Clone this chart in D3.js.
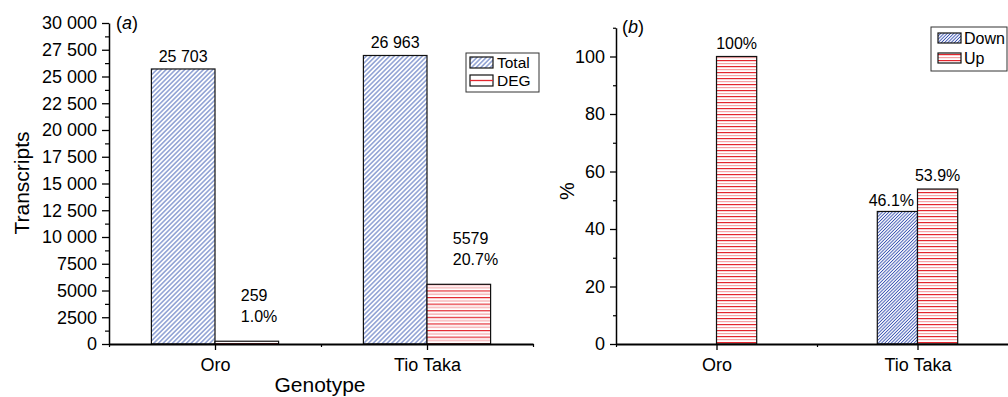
<!DOCTYPE html>
<html>
<head>
<meta charset="utf-8">
<script src="https://cdn.jsdelivr.net/npm/d3@7"></script>
<style>
  html, body { margin: 0; padding: 0; background: #fff; }
  svg { display: block; font-family: "Liberation Sans", Arial, Helvetica, sans-serif; }
</style>
</head>
<body>
<svg id="chart" width="1008" height="397"></svg>
<script>
// ---- data ----
const genotypes = ["Oro", "Tio Taka"];
const totalTranscripts = [25703, 26963];
const degTranscripts = [259, 5579];
const downPercent = [0, 46.1];
const upPercent = [100, 53.9];
const transcriptTicks = d3.range(0, 30001, 2500);
const transcriptMinorTicks = d3.range(1250, 30000, 2500);
const percentTicks = [0, 20, 40, 60, 80, 100];
const percentMinorTicks = [10, 30, 50, 70, 90, 110];

const FONT = '"Liberation Sans", Arial, Helvetica, sans-serif';
const svg = d3.select("#chart");

// ---- fill patterns ----
const defs = svg.append("defs");
function hatch(id, gap, color, width) {
  const p = defs.append("pattern").attr("id", id)
    .attr("patternUnits", "userSpaceOnUse")
    .attr("width", gap).attr("height", gap)
    .attr("patternTransform", "rotate(45)");
  p.append("rect").attr("width", gap).attr("height", gap).attr("fill", "#fff");
  p.append("line").attr("x1", gap / 2).attr("x2", gap / 2).attr("y1", 0).attr("y2", gap)
    .attr("stroke", color).attr("stroke-width", width);
}
function stripes(id, period) {
  const p = defs.append("pattern").attr("id", id)
    .attr("patternUnits", "userSpaceOnUse")
    .attr("width", 10).attr("height", period);
  p.append("rect").attr("width", 10).attr("height", period).attr("fill", "#fff");
  p.append("rect").attr("y", 0).attr("width", 10).attr("height", 1.2).attr("fill", "#e3262e");
  p.append("rect").attr("y", period / 2).attr("width", 10).attr("height", 1.2).attr("fill", "#f5a3a6");
}
hatch("hatchTotal", 3.3, "#3f5db5", 0.9);
hatch("hatchDown", 2.3, "#3550b0", 0.9);
stripes("stripeDeg", 6.6);
stripes("stripeUp", 6);

const thousands = v => v >= 10000 ? d3.format(",")(v).replace(/,/g, " ") : String(v);
const pct = v => (v % 1 === 0 ? String(v) : v.toFixed(1)) + "%";

function styleAxis(g, domainWidth) {
  g.attr("font-family", FONT).attr("font-size", 18);
  g.select(".domain").attr("stroke", "#000").attr("stroke-width", domainWidth);
  g.selectAll(".tick line").attr("stroke", "#000").attr("stroke-width", 1.3);
  g.selectAll(".tick text").attr("fill", "#000");
}
function minorAxis(g) {
  g.select(".domain").remove();
  g.selectAll(".tick line").attr("stroke", "#000").attr("stroke-width", 1.2);
}

// ================= panel (a) =================
const xA = d3.scaleLinear().domain([0.5, 2.5]).range([109, 533]);
const yA = d3.scaleLinear().domain([0, 30000]).range([344, 23]);
const wA = 0.3;
const gA = svg.append("g");

// bars: total
gA.selectAll("rect.total").data(totalTranscripts).join("rect")
  .attr("class", "total")
  .attr("x", (d, i) => xA(i + 1 - wA))
  .attr("width", xA(1) - xA(1 - wA))
  .attr("y", d => yA(d))
  .attr("height", d => yA(0) - yA(d))
  .attr("fill", "url(#hatchTotal)").attr("stroke", "#111").attr("stroke-width", 1.2);

// bars: DEG
gA.selectAll("rect.deg").data(degTranscripts).join("rect")
  .attr("class", "deg")
  .attr("x", (d, i) => xA(i + 1))
  .attr("width", xA(1 + wA) - xA(1))
  .attr("y", d => yA(d))
  .attr("height", d => yA(0) - yA(d))
  .attr("fill", "url(#stripeDeg)").attr("stroke", "#111").attr("stroke-width", 1.2);

// axes
gA.append("g").attr("transform", "translate(109,0)")
  .call(d3.axisLeft(yA).tickValues(transcriptTicks).tickFormat(thousands)
    .tickSize(7).tickSizeOuter(0).tickPadding(5))
  .call(g => styleAxis(g, 1.5));
gA.append("g").attr("transform", "translate(109,0)")
  .call(d3.axisLeft(yA).tickValues(transcriptMinorTicks).tickFormat("").tickSize(4))
  .call(minorAxis);
gA.append("g").attr("transform", "translate(0,344)")
  .call(d3.axisBottom(xA).tickValues([1, 2]).tickFormat(d => genotypes[d - 1])
    .tickSize(6).tickSizeOuter(0).tickPadding(8))
  .call(g => styleAxis(g, 2.2));
gA.append("g").attr("transform", "translate(0,344)")
  .call(d3.axisBottom(xA).tickValues([0.5, 1.5, 2.5]).tickFormat("").tickSize(3))
  .call(minorAxis);

// value labels
gA.selectAll("text.totalLbl").data(totalTranscripts).join("text")
  .attr("x", (d, i) => xA(i + 1 - wA / 2))
  .attr("y", d => yA(d) - 7)
  .attr("text-anchor", "middle").attr("font-size", 16)
  .text(d => thousands(d));
degTranscripts.forEach((d, i) => {
  const x = xA(i + 1 + wA / 2) - 6;
  gA.append("text").attr("x", x).attr("y", yA(d) - 40).attr("font-size", 16).text(String(d));
  gA.append("text").attr("x", x).attr("y", yA(d) - 19).attr("font-size", 16)
    .text(d3.format(".1%")(d / totalTranscripts[i]));
});

// titles
const panelA = gA.append("text").attr("x", 116).attr("y", 29).attr("font-size", 18);
panelA.append("tspan").text("(");
panelA.append("tspan").attr("font-style", "italic").text("a");
panelA.append("tspan").text(")");
gA.append("text").attr("transform", "translate(29,183) rotate(-90)")
  .attr("text-anchor", "middle").attr("font-size", 21).text("Transcripts");
gA.append("text").attr("x", 320).attr("y", 392)
  .attr("text-anchor", "middle").attr("font-size", 21).text("Genotype");

// legend
const legA = gA.append("g");
legA.append("rect").attr("x", 466).attr("y", 53).attr("width", 73).attr("height", 39)
  .attr("fill", "#fff").attr("stroke", "#333").attr("stroke-width", 1);
legA.append("rect").attr("x", 470).attr("y", 57).attr("width", 23).attr("height", 11)
  .attr("fill", "url(#hatchTotal)").attr("stroke", "#111").attr("stroke-width", 1.2);
legA.append("rect").attr("x", 470).attr("y", 75).attr("width", 23).attr("height", 11)
  .attr("fill", "#fff").attr("stroke", "#111").attr("stroke-width", 1.2);
legA.append("line").attr("x1", 470).attr("x2", 493).attr("y1", 80.5).attr("y2", 80.5)
  .attr("stroke", "#e3262e").attr("stroke-width", 1.3);
legA.append("text").attr("x", 497).attr("y", 68).attr("font-size", 15.5).text("Total");
legA.append("text").attr("x", 497).attr("y", 86).attr("font-size", 15.5).text("DEG");

// ================= panel (b) =================
const xB = d3.scaleLinear().domain([0.5, 2.5]).range([616, 1018]);
const yB = d3.scaleLinear().domain([0, 110]).range([344, 27.75]);
const wB = 0.2;
const gB = svg.append("g");

gB.selectAll("rect.down").data(downPercent).join("rect")
  .attr("class", "down")
  .filter(d => d > 0)
  .attr("x", (d, i) => xB(downPercent.indexOf(d) + 1 - wB))
  .attr("width", xB(1) - xB(1 - wB))
  .attr("y", d => yB(d))
  .attr("height", d => yB(0) - yB(d))
  .attr("fill", "url(#hatchDown)").attr("stroke", "#111").attr("stroke-width", 1.2);

gB.selectAll("rect.up").data(upPercent).join("rect")
  .attr("class", "up")
  .attr("x", (d, i) => xB(i + 1))
  .attr("width", xB(1 + wB) - xB(1))
  .attr("y", d => yB(d))
  .attr("height", d => yB(0) - yB(d))
  .attr("fill", "url(#stripeUp)").attr("stroke", "#111").attr("stroke-width", 1.2);

gB.append("g").attr("transform", "translate(616,0)")
  .call(d3.axisLeft(yB).tickValues(percentTicks).tickSize(6).tickSizeOuter(0).tickPadding(5))
  .call(g => styleAxis(g, 1.5));
gB.append("g").attr("transform", "translate(616,0)")
  .call(d3.axisLeft(yB).tickValues(percentMinorTicks).tickFormat("").tickSize(3))
  .call(minorAxis);
gB.append("g").attr("transform", "translate(0,344)")
  .call(d3.axisBottom(xB).tickValues([1, 2]).tickFormat(d => genotypes[d - 1])
    .tickSize(6).tickSizeOuter(0).tickPadding(8))
  .call(g => styleAxis(g, 2.2));
gB.append("g").attr("transform", "translate(0,344)")
  .call(d3.axisBottom(xB).tickValues([0.5, 1.5, 2.5]).tickFormat("").tickSize(3))
  .call(minorAxis);

// value labels
downPercent.forEach((d, i) => {
  if (d <= 0) return;
  gB.append("text").attr("x", xB(i + 1 - wB / 2) - 6).attr("y", yB(d) - 5)
    .attr("text-anchor", "middle").attr("font-size", 16).text(pct(d));
});
upPercent.forEach((d, i) => {
  gB.append("text").attr("x", xB(i + 1 + wB / 2)).attr("y", yB(d) - 8)
    .attr("text-anchor", "middle").attr("font-size", 16).text(pct(d));
});

const panelB = gB.append("text").attr("x", 622).attr("y", 33).attr("font-size", 18);
panelB.append("tspan").text("(");
panelB.append("tspan").attr("font-style", "italic").text("b");
panelB.append("tspan").text(")");
gB.append("text").attr("transform", "translate(574,191) rotate(-90)")
  .attr("text-anchor", "middle").attr("font-size", 20).text("%");

const legB = gB.append("g");
legB.append("rect").attr("x", 931).attr("y", 27).attr("width", 76).attr("height", 44)
  .attr("fill", "#fff").attr("stroke", "#333").attr("stroke-width", 1);
legB.append("rect").attr("x", 938).attr("y", 33).attr("width", 23).attr("height", 10)
  .attr("fill", "url(#hatchDown)").attr("stroke", "#111").attr("stroke-width", 1.2);
legB.append("rect").attr("x", 938).attr("y", 53).attr("width", 23).attr("height", 10)
  .attr("fill", "url(#stripeUp)").attr("stroke", "#111").attr("stroke-width", 1.2);
legB.append("text").attr("x", 964).attr("y", 44).attr("font-size", 16).text("Down");
legB.append("text").attr("x", 964).attr("y", 64).attr("font-size", 16).text("Up");
</script>
</body>
</html>
